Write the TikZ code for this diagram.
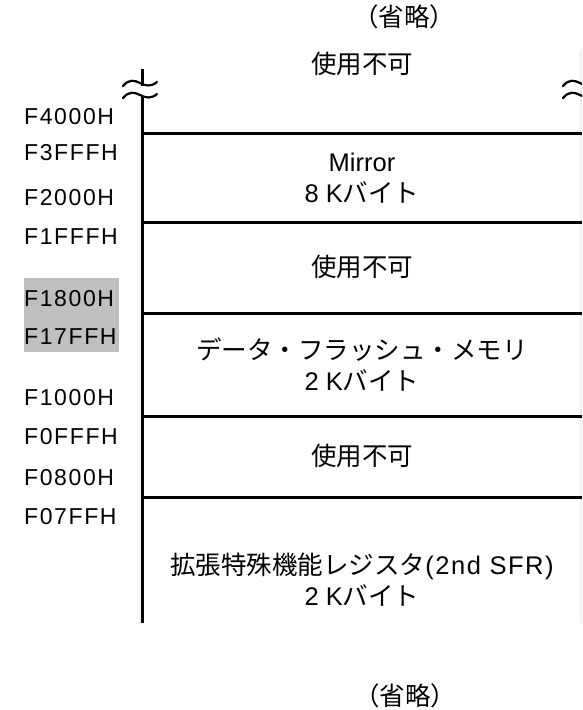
\documentclass[tikz,border=0pt]{standalone}
\usepackage{fontspec}
\setmainfont{Liberation Sans}
\newfontfamily\addrfont[LetterSpace=7]{Liberation Sans}
\newfontfamily\latsp[LetterSpace=6]{Liberation Sans}
\newfontfamily\jp{Noto Sans CJK JP}
\begin{document}
\begin{tikzpicture}[x=1pt,y=-1pt,
  addr/.style={anchor=west,inner sep=0pt,font=\addrfont\fontsize{23}{27}\selectfont},
  blk/.style={align=center,inner sep=0pt,font=\fontsize{25.5}{31}\selectfont},
  rule/.style={line width=3pt},
  brk/.style={line width=2.2pt,line cap=round}]
\useasboundingbox (0,0) rectangle (582,710);
% faint frame lines
\draw[gray!12,line width=0.8pt] (139,100) -- (139,623);
\draw[gray!12,line width=1.2pt] (581,50) -- (581,623);
% highlight
\fill[gray!50] (24,278) rectangle (119,352);
% vertical axis
\coordinate (vtop) at (142,69);
\coordinate (vb1) at (142,86);
\coordinate (vb2) at (142,96);
\coordinate (vbot) at (142,623);
\draw[rule] (vtop) -- (vb1);
\draw[rule] (vb2) -- (vbot);
% break marks
\foreach \dy in {0,12}{
  \draw[brk] (123,86+\dy) .. controls (129,79+\dy) and (134,80+\dy) .. (140,83+\dy)
     .. controls (146,86+\dy) and (151,87+\dy) .. (157,82+\dy);
}
\begin{scope}
\clip (540,60) rectangle (582,110);
\foreach \dy in {0,12}{
  \draw[brk] (563,86+\dy) .. controls (569,79+\dy) and (574,80+\dy) .. (580,83+\dy)
     .. controls (586,86+\dy) and (591,87+\dy) .. (597,82+\dy);
}
\end{scope}
% horizontal boundaries
\foreach \y in {133,222,313,416,497}{
  \draw[rule] (142,\y) -- (582,\y);
}
% address labels
\node[addr] (a1) at (24,117) {F4000H};
\node[addr] (a2) at (24,153) {F3FFFH};
\node[addr] (a3) at (24,198) {F2000H};
\node[addr] (a4) at (24,237) {F1FFFH};
\node[addr] (a5) at (24,299) {F1800H};
\node[addr] (a6) at (24,337) {F17FFH};
\node[addr] (a7) at (24,398) {F1000H};
\node[addr] (a8) at (24,437) {F0FFFH};
\node[addr] (a9) at (24,478) {F0800H};
\node[addr] (a10) at (24,517) {F07FFH};
% block texts
\node[blk] (b0) at (362,64) {\jp 使用不可};
\node[blk] (b1) at (362,178) {Mirror\\8 K\jp{バイト}};
\node[blk] (b2) at (362,267) {\jp 使用不可};
\node[blk] (b3) at (362,365) {\jp データ・フラッシュ・メモリ\\2 K\jp{バイト}};
\node[blk] (b4) at (362,456) {\jp 使用不可};
\node[blk] (b5) at (362,580) {\jp{拡張特殊機能レジスタ}{\latsp(2nd SFR)}\\2 K\jp{バイト}};
% omitted marks
\node[blk] (o1) at (404,17) {\jp （省略）};
\node[blk] (o2) at (405,696) {\jp （省略）};
\end{tikzpicture}
\end{document}
